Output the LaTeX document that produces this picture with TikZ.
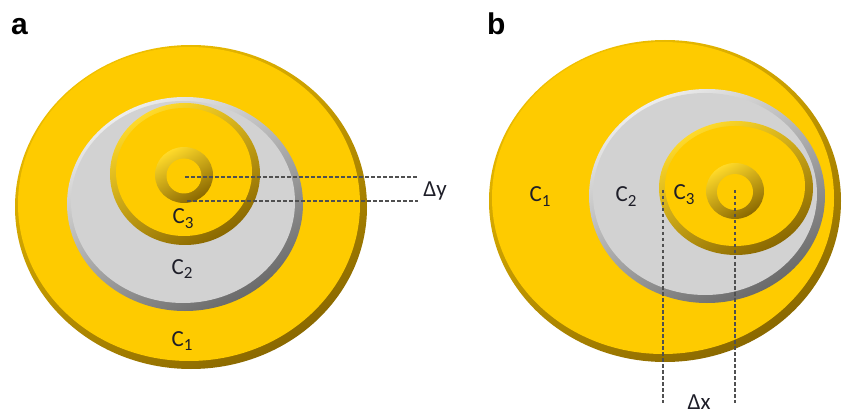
\documentclass[tikz,border=0pt]{standalone}
\usepackage{fontspec}
\setmainfont{Carlito}
\newfontfamily\panelfont{Liberation Sans}
\definecolor{gold}{HTML}{FECB00}
\definecolor{golddark}{HTML}{8A6800}
\definecolor{goldlight}{HTML}{F0C000}
\definecolor{goldhi}{HTML}{FFDA2A}
\definecolor{grayfill}{HTML}{D2D2D2}
\definecolor{graydark}{HTML}{6A6A6A}
\definecolor{graylight}{HTML}{EDEDED}
\definecolor{dashcol}{HTML}{505050}
\definecolor{labcol}{HTML}{1E1E28}
\tikzset{
  goldrim/.style={top color=goldlight, bottom color=golddark, shading angle=30},
  goldring/.style={top color=goldhi, bottom color=golddark, shading angle=30},
  grayrim/.style={top color=graylight, bottom color=graydark, shading angle=30},
  dashln/.style={draw=dashcol, line width=1.1pt, dash pattern=on 3.5pt off 2.5pt},
  clab/.style={font=\fontsize{23}{23}\selectfont, text=labcol, inner sep=0pt, anchor=base},
  plab/.style={font=\panelfont\bfseries\fontsize{30}{30}\selectfont, inner sep=0pt, anchor=base west},
}
\newcommand{\sub}[1]{\raisebox{-4.5pt}{\fontsize{17}{17}\selectfont #1}}
\begin{document}
\begin{tikzpicture}[x=1pt,y=-1pt]
\useasboundingbox (0,0) rectangle (847,417);
% ---------- panel a ----------
\node[plab] (pa) at (11,35) {a};
\shade[goldrim] (191,207) ellipse [x radius=176, y radius=162];
\fill[gold] (189,204) ellipse [x radius=171, y radius=157];
\shade[grayrim] (185,204) ellipse [x radius=118, y radius=107];
\fill[grayfill] (183,202) ellipse [x radius=112, y radius=101];
\shade[goldring] (185,174) ellipse [x radius=75, y radius=71];
\fill[gold] (184,172) ellipse [x radius=68, y radius=64];
\shade[goldring] (184,175) ellipse [x radius=29, y radius=28];
\fill[gold] (184,176) circle [radius=17.5];
\coordinate (ya1) at (185,177);
\coordinate (ya2) at (418,177);
\coordinate (yb1) at (187,201);
\coordinate (yb2) at (418,201);
\draw[dashln] (ya1) -- (ya2);
\draw[dashln] (yb1) -- (yb2);
\node[clab] (dy) at (435,197) {Δy};
\node[clab] (a3) at (183,224) {C\sub{3}};
\node[clab] (a2) at (182,274) {C\sub{2}};
\node[clab] (a1) at (182,346) {C\sub{1}};
% ---------- panel b ----------
\node[plab] (pb) at (487,35) {b};
\shade[goldrim] (665,201) ellipse [x radius=176, y radius=161];
\fill[gold] (663,198) ellipse [x radius=171, y radius=156];
\shade[grayrim] (707,196) ellipse [x radius=118, y radius=107];
\fill[grayfill] (705,194) ellipse [x radius=112, y radius=101];
\shade[goldring] (736,188) ellipse [x radius=77, y radius=67];
\fill[gold] (735,186) ellipse [x radius=70, y radius=60];
\shade[goldring] (735,191) ellipse [x radius=29, y radius=28];
\fill[gold] (735,192) circle [radius=18];
\coordinate (xa1) at (663,190);
\coordinate (xa2) at (663,403);
\coordinate (xb1) at (735,190);
\coordinate (xb2) at (735,403);
\draw[dashln] (xa1) -- (xa2);
\draw[dashln] (xb1) -- (xb2);
\node[clab] (dx) at (699,409) {Δx};
\node[clab] (b1) at (540,202) {C\sub{1}};
\node[clab] (b2) at (626,202) {C\sub{2}};
\node[clab] (b3) at (684,200) {C\sub{3}};
\end{tikzpicture}
\end{document}
